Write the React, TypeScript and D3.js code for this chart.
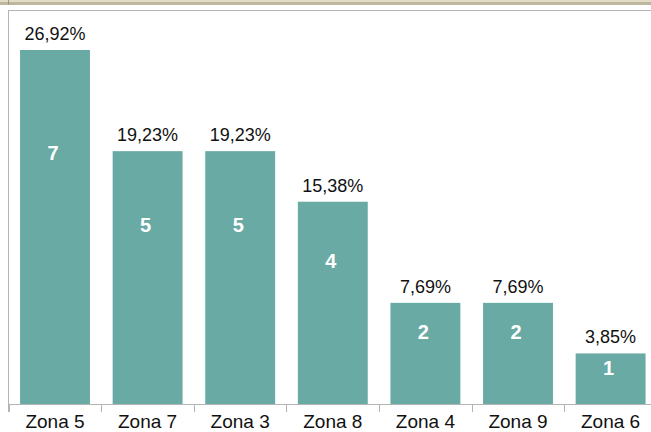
import React from "react";
import * as d3 from "d3";

const categories = ["Zona 5", "Zona 7", "Zona 3", "Zona 8", "Zona 4", "Zona 9", "Zona 6"];
const counts = [7, 5, 5, 4, 2, 2, 1];
const percentLabels = ["26,92%", "19,23%", "19,23%", "15,38%", "7,69%", "7,69%", "3,85%"];

const W = 651;
const H = 432;
const FONT = "'Liberation Sans', Arial, sans-serif";

export default function App() {
  const left = 8;
  const baseY = 404;
  const x = d3
    .scaleBand<string>()
    .domain(categories)
    .range([left, left + 7 * 92.8])
    .paddingInner(0.245)
    .paddingOuter(0.13);
  const y = d3.scaleLinear().domain([0, 7]).range([baseY, 50]);
  const bw = x.bandwidth();
  const gap = (x.step() - bw) / 2;

  return (
    <svg
      width={W}
      height={H}
      style={{ position: "fixed", left: 0, top: 0, background: "#fff" }}
      fontFamily={FONT}
    >
      <rect x={0} y={0} width={W} height={H} fill="#fff" />
      {/* top band */}
      <rect x={0} y={0} width={W} height={5} fill="#bdb79f" />
      <rect x={0} y={0} width={W} height={2} fill="#e2dcc6" />
      <line x1={8.5} y1={0} x2={8.5} y2={5} stroke="#9e9880" />
      {/* frame */}
      <line x1={8} y1={10.5} x2={W} y2={10.5} stroke="#b4b4b4" />
      <line x1={8.5} y1={10} x2={8.5} y2={412} stroke="#b4b4b4" />
      {/* bars */}
      {categories.map((c, i) => {
        const x0 = x(c)!;
        const top = y(counts[i]);
        const h = baseY - top;
        return (
          <g key={c}>
            <rect x={x0} y={top} width={bw} height={h} fill="#6aaaa4" />
            <text
              x={x0 + bw / 2}
              y={top - 10}
              textAnchor="middle"
              fontSize={18}
              fill="#111"
            >
              {percentLabels[i]}
            </text>
            <text
              x={x0 + bw / 2 - 2}
              y={top + h * 0.29}
              dy="0.36em"
              textAnchor="middle"
              fontSize={20}
              fontWeight="bold"
              fill="#fff"
            >
              {counts[i]}
            </text>
            <text
              x={x0 + bw / 2}
              y={428}
              textAnchor="middle"
              fontSize={19}
              fill="#111"
            >
              {c}
            </text>
          </g>
        );
      })}
      {/* x axis */}
      <line x1={8} y1={baseY + 0.5} x2={W} y2={baseY + 0.5} stroke="#b4b4b4" />
      {categories.map((c) => {
        const tx = Math.round(x(c)! - gap) + 0.5;
        return <line key={"t" + c} x1={tx} y1={baseY} x2={tx} y2={412} stroke="#b4b4b4" />;
      })}
    </svg>
  );
}
